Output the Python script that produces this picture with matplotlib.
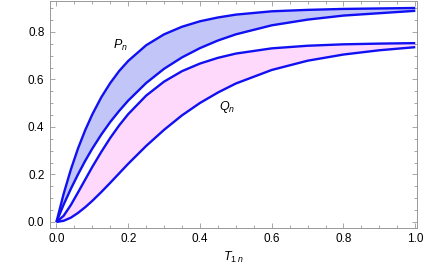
import numpy as np
import matplotlib
matplotlib.use("Agg")
import matplotlib.pyplot as plt
from matplotlib.ticker import MultipleLocator

plt.rcParams["font.family"] = ["Liberation Sans", "DejaVu Sans"]
plt.rcParams["mathtext.fontset"] = "custom"
plt.rcParams["mathtext.rm"] = "Liberation Sans"
plt.rcParams["mathtext.it"] = "Liberation Sans:italic"

# values
t1n = [0, .02, .04, .06, .08, .1, .125, .15, .175, .2, .25, .3, .35, .4, .45, .5, .6, .7, .8, .9, 1.0]
p_hi = [0, .118, .220, .309, .386, .453, .525, .585, .636, .678, .744, .790, .822, .845, .861, .873, .887, .893, .897, .899, .901]
p_lo = [0, .073, .139, .200, .257, .309, .368, .421, .468, .511, .585, .645, .693, .732, .764, .790, .828, .852, .869, .879, .889]
q_hi = [0, .026, .071, .124, .178, .232, .295, .354, .407, .454, .532, .591, .635, .667, .691, .709, .731, .742, .748, .751, .753]
q_lo = [0, .005, .018, .038, .062, .089, .126, .165, .205, .245, .320, .388, .449, .501, .545, .583, .640, .679, .705, .723, .736]

BLUE = "#1010f2"
fig = plt.figure(figsize=(4.25, 2.73), dpi=100)
ax = fig.add_axes([0.1176, 0.166, 0.8636, 0.830])

ax.fill_between(t1n, p_lo, p_hi, color="#c2c5f8", lw=0)
ax.fill_between(t1n, q_lo, q_hi, color="#fed9fb", lw=0)
for ys in (p_hi, p_lo, q_hi, q_lo):
    ax.plot(t1n, ys, color=BLUE, lw=1.7, solid_capstyle="butt")

ax.text(0.177, 0.745, r"$P_n$", fontsize=9, ha="center", va="center")
ax.text(0.476, 0.484, r"$Q_n$", fontsize=9, ha="center", va="center")

ax.set_xlim(-0.018, 1.005)
ax.set_ylim(-0.024, 0.93)
ax.xaxis.set_major_locator(MultipleLocator(0.2))
ax.yaxis.set_major_locator(MultipleLocator(0.2))
ax.xaxis.set_minor_locator(MultipleLocator(0.05))
ax.yaxis.set_minor_locator(MultipleLocator(0.05))
ax.tick_params(which="both", direction="in", top=True, right=True, color="#999999", width=0.6, labelsize=8.5, pad=4)
ax.tick_params(which="major", length=3.5)
ax.tick_params(which="minor", length=2)
for s in ax.spines.values():
    s.set_color("#999999"); s.set_linewidth(0.7)
ax.set_xlabel(r"$T_{1\ n}$", fontsize=9, labelpad=3)

fig.savefig("out.png", dpi=100)
